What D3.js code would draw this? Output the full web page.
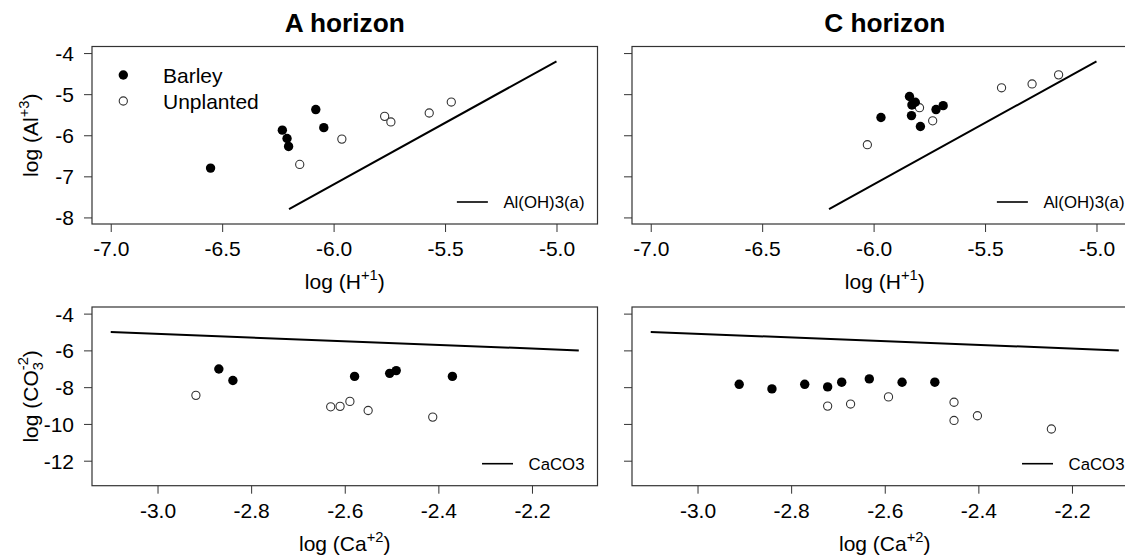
<!DOCTYPE html>
<html>
<head>
<meta charset="utf-8">
<script src="https://cdn.jsdelivr.net/npm/d3@7"></script>
<style>
body { margin: 0; background: #fff; }
svg { display: block; font-family: "Liberation Sans", Arial, sans-serif; }
</style>
</head>
<body>
<svg id="chart" width="1125" height="558"></svg>
<script>
// A horizon: log(H+1) vs log(Al+3)
const aBarleyH = [-6.552, -6.080, -6.230, -6.209, -6.202, -6.044];
const aBarleyAl = [-6.80, -5.375, -5.876, -6.078, -6.272, -5.815];
const aUnplH = [-6.152, -5.963, -5.771, -5.743, -5.571, -5.472];
const aUnplAl = [-6.71, -6.094, -5.54, -5.676, -5.459, -5.192];

// C horizon: log(H+1) vs log(Al+3)
const cBarleyH = [-5.839, -5.813, -5.828, -5.830, -5.967, -5.790, -5.720, -5.688];
const cBarleyAl = [-5.056, -5.197, -5.262, -5.522, -5.568, -5.787, -5.375, -5.280];
const cUnplH = [-6.028, -5.794, -5.735, -5.426, -5.289, -5.170];
const cUnplAl = [-6.23, -5.329, -5.649, -4.845, -4.752, -4.53];

// A horizon: log(Ca+2) vs log(CO3-2)
const aBarleyCa = [-2.869, -2.839, -2.579, -2.504, -2.490, -2.370];
const aBarleyCO3 = [-7.01, -7.64, -7.415, -7.25, -7.10, -7.415];
const aUnplCa = [-2.918, -2.630, -2.610, -2.589, -2.550, -2.412];
const aUnplCO3 = [-8.445, -9.07, -9.045, -8.775, -9.27, -9.63];

// C horizon: log(Ca+2) vs log(CO3-2)
const cBarleyCa = [-2.911, -2.841, -2.771, -2.722, -2.692, -2.633, -2.563, -2.493];
const cBarleyCO3 = [-7.845, -8.095, -7.845, -7.985, -7.73, -7.55, -7.735, -7.73];
const cUnplCa = [-2.722, -2.673, -2.592, -2.452, -2.452, -2.402, -2.244];
const cUnplCO3 = [-9.03, -8.92, -8.53, -8.82, -9.81, -9.555, -10.275];

// equilibrium lines
const alLineH = [-6.2, -5.0];
const alLineAl = [-7.8, -4.2];
const caco3LineCa = [-3.1, -2.1];
const caco3LineCO3 = [-5.0, -6.0];

// axis limits and ticks
const hLim = [-7, -4.9];
const alLim = [-8, -4];
const caLim = [-3.1, -2.1];
const co3Lim = [-13, -4];
const hTicks = [-7.0, -6.5, -6.0, -5.5, -5.0];
const alTicks = [-8, -7, -6, -5, -4];
const caTicks = [-3.0, -2.8, -2.6, -2.4, -2.2];
const co3Ticks = [-12, -10, -8, -6, -4];

const seriesNames = ['Barley', 'Unplanted'];

const FS = 21;
const R_FILL = 4.7, R_OPEN = 4.1;
const COLS = [[92, 597.5], [632, 1137.5]];
const ROWS = [[46.5, 224], [307, 485.7]];

const svg = d3.select('#chart');

// R pads each axis by 4% of the range
const padLim = lim => {
    const d = (lim[1] - lim[0]) * 0.04;
    return [lim[0] - d, lim[1] + d];
};
const fmt1 = d => d.toFixed(1);
const fmt0 = d => String(d);

const zip = (xs, ys) => xs.map((v, i) => [v, ys[i]]);

function drawPanel(p) {
    const [x0, x1] = COLS[p.col];
    const [y0, y1] = ROWS[p.row];
    const x = d3.scaleLinear().domain(padLim(p.xLim)).range([x0, x1]);
    const y = d3.scaleLinear().domain(padLim(p.yLim)).range([y1, y0]);
    const g = svg.append('g');

    // x axis
    const xa = g.append('g')
        .attr('transform', `translate(0,${y1})`)
        .call(d3.axisBottom(x).tickValues(p.xTicks).tickSize(8).tickSizeOuter(0).tickFormat(p.xFmt));
    xa.select('.domain').remove();
    xa.selectAll('line').attr('stroke', '#333');
    xa.selectAll('text').attr('dy', null).attr('y', 32)
        .attr('fill', '#000').style('font-size', FS + 'px').style('font-family', 'inherit');

    // y axis
    const ya = g.append('g')
        .attr('transform', `translate(${x0},0)`)
        .call(d3.axisLeft(y).tickValues(p.yTicks).tickSize(8).tickSizeOuter(0).tickFormat(p.col === 0 ? fmt0 : () => ''));
    ya.select('.domain').remove();
    ya.selectAll('line').attr('stroke', '#333');
    ya.selectAll('text').attr('x', -18).attr('dy', '0.36em')
        .attr('fill', '#000').style('font-size', FS + 'px').style('font-family', 'inherit');

    // box
    g.append('rect')
        .attr('x', x0).attr('y', y0)
        .attr('width', x1 - x0).attr('height', y1 - y0)
        .attr('fill', 'none').attr('stroke', '#333').attr('stroke-width', 1.2);

    const clip = 'clip' + p.row + p.col;
    g.append('clipPath').attr('id', clip).append('rect')
        .attr('x', x0).attr('y', y0).attr('width', x1 - x0).attr('height', y1 - y0);
    const plot = g.append('g').attr('clip-path', `url(#${clip})`);

    // equilibrium line
    plot.append('path')
        .datum(zip(p.lineX, p.lineY))
        .attr('d', d3.line().x(d => x(d[0])).y(d => y(d[1])))
        .attr('fill', 'none').attr('stroke', '#000').attr('stroke-width', 2);

    // points
    plot.selectAll('.open').data(zip(p.unplX, p.unplY)).enter()
        .append('circle').attr('class', 'open')
        .attr('cx', d => x(d[0])).attr('cy', d => y(d[1])).attr('r', R_OPEN)
        .attr('fill', '#fff').attr('stroke', '#333').attr('stroke-width', 1.1);
    plot.selectAll('.filled').data(zip(p.barleyX, p.barleyY)).enter()
        .append('circle').attr('class', 'filled')
        .attr('cx', d => x(d[0])).attr('cy', d => y(d[1])).attr('r', R_FILL)
        .attr('fill', '#000');

    // small line legend, bottom right
    const lt = g.append('text')
        .attr('x', x1 - 13).attr('y', y1 - 16)
        .attr('text-anchor', 'end')
        .style('font-size', (FS * 0.8) + 'px')
        .text(p.lineName);
    const tw = lt.node().getComputedTextLength();
    const lx1 = x1 - 13 - tw - 15.5;
    g.append('line')
        .attr('x1', lx1 - 31).attr('x2', lx1)
        .attr('y1', y1 - 22).attr('y2', y1 - 22)
        .attr('stroke', '#000').attr('stroke-width', 1.6);

    // panel title
    if (p.title) {
        svg.append('text')
            .attr('x', (x0 + x1) / 2).attr('y', 32)
            .attr('text-anchor', 'middle')
            .style('font-size', (FS * 1.25) + 'px').style('font-weight', 'bold')
            .text(p.title);
    }

    // x axis title
    const xt = svg.append('text')
        .attr('x', (x0 + x1) / 2).attr('y', y1 + 65)
        .attr('text-anchor', 'middle')
        .style('font-size', FS + 'px');
    p.xLabel(xt);

    // y axis title
    if (p.col === 0) {
        const yt = svg.append('text')
            .attr('transform', `translate(38,${(y0 + y1) / 2}) rotate(-90)`)
            .attr('text-anchor', 'middle')
            .style('font-size', FS + 'px');
        p.yLabel(yt);
    }

    // series legend, first panel only
    if (p.legend) {
        const lg = g.append('g');
        const rows = [[75, true], [101, false]];
        rows.forEach((r, i) => {
            lg.append('circle')
                .attr('cx', 123.3).attr('cy', r[0])
                .attr('r', r[1] ? R_FILL : R_OPEN)
                .attr('fill', r[1] ? '#000' : '#fff')
                .attr('stroke', r[1] ? 'none' : '#333').attr('stroke-width', 1.1);
            lg.append('text')
                .attr('x', 163).attr('y', r[0] + 7.5)
                .style('font-size', FS + 'px')
                .text(seriesNames[i]);
        });
    }
}

const SUP = FS * 0.7;
function supLabel(base, sup) {
    return t => {
        t.append('tspan').text(base);
        t.append('tspan').attr('dy', -9).style('font-size', SUP + 'px').text(sup);
        t.append('tspan').attr('dy', 9).text(')');
    };
}
function co3Label(t) {
    t.append('tspan').text('log (CO');
    t.append('tspan').attr('dy', 5).style('font-size', SUP + 'px').text('3');
    t.append('tspan').attr('dx', -SUP * 0.556).attr('dy', -15).style('font-size', SUP + 'px').text('-2');
    t.append('tspan').attr('dy', 10).text(')');
}

const panels = [
    { row: 0, col: 0, title: 'A horizon', legend: true,
      xLim: hLim, yLim: alLim, xTicks: hTicks, yTicks: alTicks, xFmt: fmt1,
      barleyX: aBarleyH, barleyY: aBarleyAl, unplX: aUnplH, unplY: aUnplAl,
      lineX: alLineH, lineY: alLineAl, lineName: 'Al(OH)3(a)',
      xLabel: supLabel('log (H', '+1'), yLabel: supLabel('log (Al', '+3') },
    { row: 0, col: 1, title: 'C horizon',
      xLim: hLim, yLim: alLim, xTicks: hTicks, yTicks: alTicks, xFmt: fmt1,
      barleyX: cBarleyH, barleyY: cBarleyAl, unplX: cUnplH, unplY: cUnplAl,
      lineX: alLineH, lineY: alLineAl, lineName: 'Al(OH)3(a)',
      xLabel: supLabel('log (H', '+1') },
    { row: 1, col: 0,
      xLim: caLim, yLim: co3Lim, xTicks: caTicks, yTicks: co3Ticks, xFmt: fmt1,
      barleyX: aBarleyCa, barleyY: aBarleyCO3, unplX: aUnplCa, unplY: aUnplCO3,
      lineX: caco3LineCa, lineY: caco3LineCO3, lineName: 'CaCO3',
      xLabel: supLabel('log (Ca', '+2'), yLabel: co3Label },
    { row: 1, col: 1,
      xLim: caLim, yLim: co3Lim, xTicks: caTicks, yTicks: co3Ticks, xFmt: fmt1,
      barleyX: cBarleyCa, barleyY: cBarleyCO3, unplX: cUnplCa, unplY: cUnplCO3,
      lineX: caco3LineCa, lineY: caco3LineCO3, lineName: 'CaCO3',
      xLabel: supLabel('log (Ca', '+2') }
];

panels.forEach(drawPanel);
</script>
</body>
</html>
